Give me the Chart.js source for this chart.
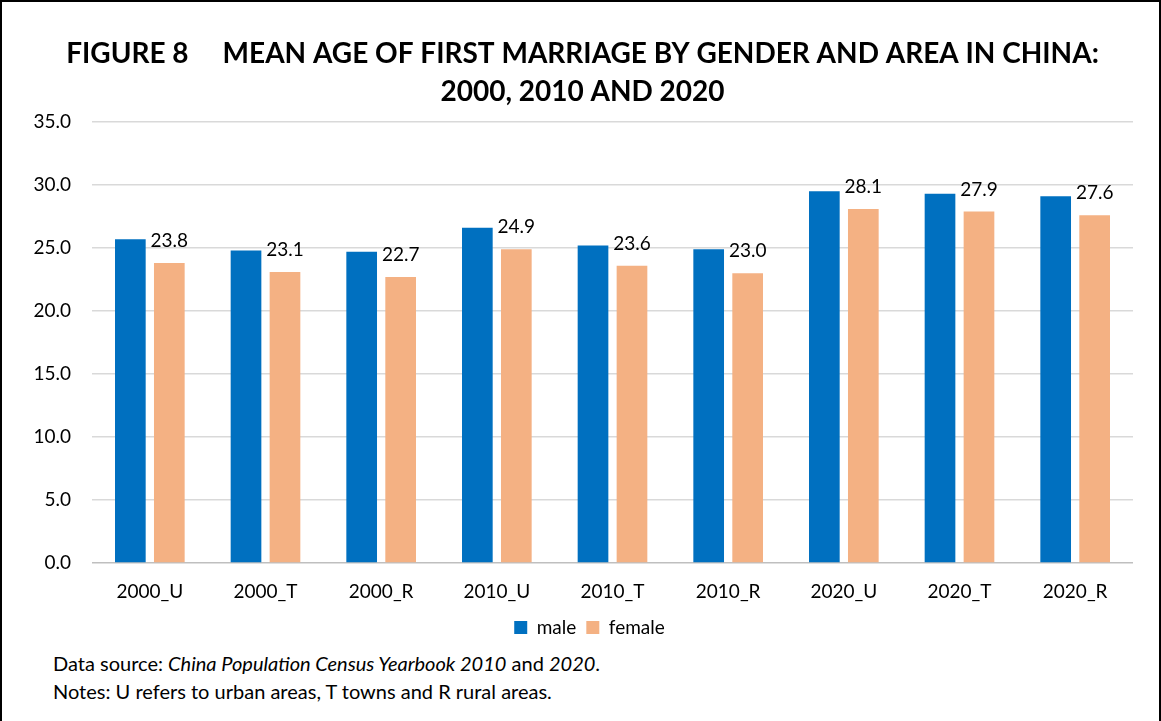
<!DOCTYPE html>
<html>
<head>
<meta charset="utf-8">
<script src="https://cdn.jsdelivr.net/npm/chart.js@4.4.1/dist/chart.umd.min.js"></script>
<style>
  body { margin: 0; background: #fff; }
  #frame {
    position: absolute; left: 0; top: 0;
    width: 1157px; height: 719px;
    border: 2px solid #000; background: #fff;
    font-family: Lato, "Open Sans", sans-serif;
  }
  #chart { position: absolute; left: 0; top: 0; }
  .note { position: absolute; left: 51px; font-size: 20px; line-height: 24px; color: #000; }
</style>
</head>
<body>
<div id="frame">
  <canvas id="chart" width="1157" height="645"></canvas>
  <div class="note" style="top: 649px;">Data source: <i>China Population Census Yearbook 2010</i> and <i>2020</i>.</div>
  <div class="note" style="top: 677px;">Notes: U refers to urban areas, T towns and R rural areas.</div>
</div>
<script>
// categories: census year + area (U urban, T towns, R rural)
const categories = ['2000_U', '2000_T', '2000_R', '2010_U', '2010_T', '2010_R', '2020_U', '2020_T', '2020_R'];
const maleAge = [25.7, 24.8, 24.7, 26.6, 25.2, 24.9, 29.5, 29.3, 29.1];
const femaleAge = [23.8, 23.1, 22.7, 24.9, 23.6, 23.0, 28.1, 27.9, 27.6];
const yTicks = [0, 5, 10, 15, 20, 25, 30, 35];

const FONT = 'Lato, "Open Sans", sans-serif';

// writes the value above each female bar
const femaleLabels = {
    id: 'femaleLabels',
    afterDatasetsDraw(chart) {
        const ctx = chart.ctx;
        const meta = chart.getDatasetMeta(1);
        ctx.save();
        ctx.font = '19px ' + FONT;
        ctx.fillStyle = '#000';
        ctx.textAlign = 'center';
        ctx.textBaseline = 'middle';
        meta.data.forEach((bar, i) => {
            ctx.fillText(femaleAge[i].toFixed(1), bar.x, bar.y - 22);
        });
        ctx.restore();
    }
};

// title and legend sit a little right of the canvas centre
const nudgeBoxes = {
    id: 'nudgeBoxes',
    afterLayout(chart) {
        const shift = (box, dx) => {
            if (!box) return;
            box.left += dx;
            box.right += dx;
        };
        shift(chart.titleBlock, 15);
        shift(chart.legend, 22);
    }
};

const ctx = document.getElementById('chart').getContext('2d');
const myBarChart = new Chart(ctx, {
    type: 'bar',
    data: {
        labels: categories,
        datasets: [
            {
                label: 'male',
                data: maleAge,
                backgroundColor: '#0070c0',
                borderWidth: 0,
                categoryPercentage: 0.674,
                barPercentage: 0.787
            },
            {
                label: 'female',
                data: femaleAge,
                backgroundColor: '#f4b183',
                borderWidth: 0,
                categoryPercentage: 0.674,
                barPercentage: 0.787
            }
        ]
    },
    options: {
        responsive: false,
        animation: false,
        layout: { padding: { left: 0, right: 26, top: 0, bottom: 0 } },
        plugins: {
            title: {
                display: true,
                text: ['FIGURE 8     MEAN AGE OF FIRST MARRIAGE BY GENDER AND AREA IN CHINA:', '2000, 2010 AND 2020'],
                color: '#000',
                font: { family: FONT, size: 28, weight: 'bold', lineHeight: 38 / 28 },
                padding: { top: 33, bottom: 11 }
            },
            legend: {
                position: 'bottom',
                labels: {
                    color: '#000',
                    boxWidth: 13,
                    boxHeight: 13,
                    padding: 10,
                    font: { family: FONT, size: 19 }
                }
            },
            tooltip: { enabled: false }
        },
        scales: {
            x: {
                grid: { display: false, drawTicks: false },
                border: { display: false },
                afterFit(axis) {
                    axis.height = 45;
                },
                ticks: {
                    color: '#000',
                    padding: 17,
                    font: { family: FONT, size: 19 }
                }
            },
            y: {
                min: 0,
                max: 35,
                afterBuildTicks(axis) {
                    axis.ticks = yTicks.map(v => ({ value: v }));
                },
                afterFit(axis) {
                    axis.width = 90;
                },
                grid: {
                    color: c => (c.tick && c.tick.value === 0 ? '#bfbfbf' : '#d9d9d9'),
                    lineWidth: 1.5,
                    drawTicks: false
                },
                border: { display: false },
                ticks: {
                    color: '#000',
                    padding: 21,
                    font: { family: FONT, size: 19 },
                    callback: v => v.toFixed(1)
                }
            }
        }
    },
    plugins: [femaleLabels, nudgeBoxes]
});
</script>
</body>
</html>
